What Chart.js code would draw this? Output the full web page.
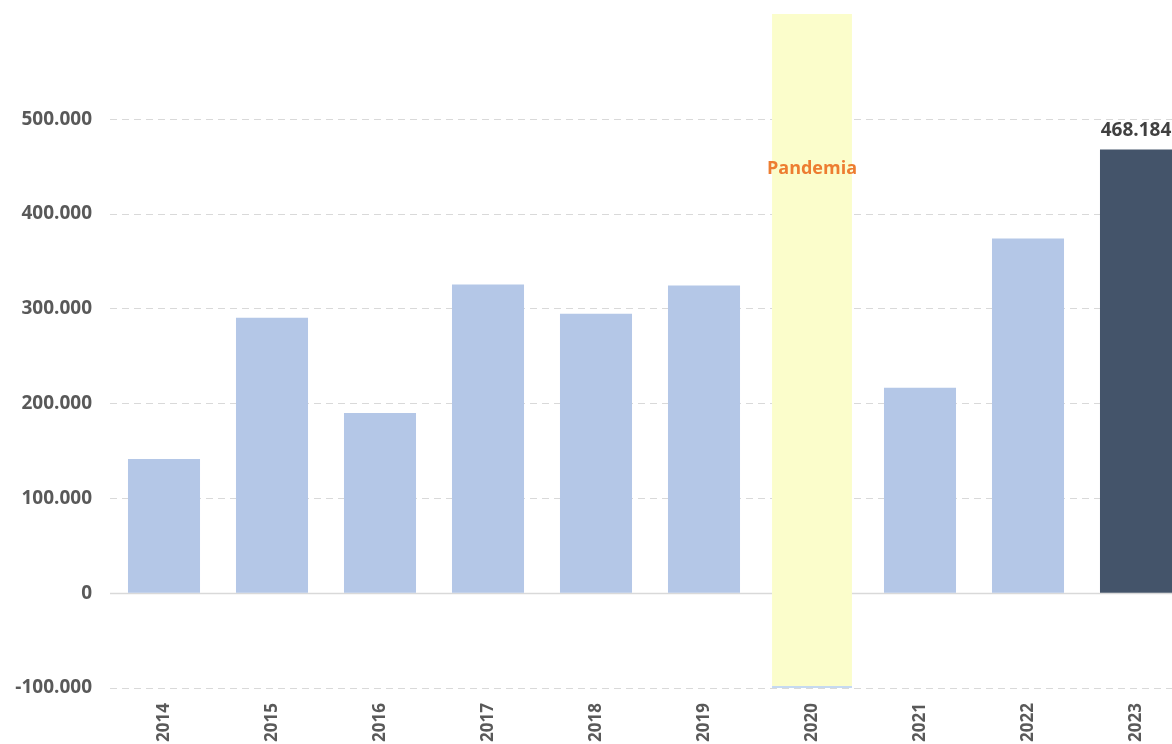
<!DOCTYPE html>
<html>
<head>
<meta charset="utf-8">
<script src="https://cdn.jsdelivr.net/npm/chart.js@4/dist/chart.umd.min.js"></script>
<style>
  html, body { margin: 0; padding: 0; background: #ffffff; overflow: hidden; width: 1172px; height: 744px; }
  #wrap { position: absolute; left: 0; top: 0; width: 1190px; height: 744px; }
</style>
</head>
<body>
<div id="wrap"><canvas id="c" width="1190" height="744"></canvas></div>
<script>
// ---- data ----
const years = ['2014', '2015', '2016', '2017', '2018', '2019', '2020', '2021', '2022', '2023'];
const values = [141600, 290700, 190000, 325600, 294900, 324500, null, 216700, 374200, 468184];
const highlightYear = '2020';
const highlightLabel = 'Pandemia';
const highlightRange = [-100000, 611000];
const yTickValues = [-100000, 0, 100000, 200000, 300000, 400000, 500000];
const yMin = -100000;
const yMax = 611000;

// ---- helpers ----
function fmt(v) {
  const s = Math.abs(Math.round(v)).toString().replace(/\B(?=(\d{3})+(?!\d))/g, '.');
  return (v < 0 ? '-' : '') + s;
}
const lastIdx = values.length - 1;
const barColors = values.map((v, i) => i === lastIdx ? '#44546a' : '#b4c7e7');

const fontFam = '"Open Sans", "Noto Sans", sans-serif';

const overlayPlugin = {
  id: 'overlay',
  beforeDatasetsDraw(chart) {
    const y = chart.scales.y, a = chart.chartArea, ctx = chart.ctx;
    const y0 = Math.round(y.getPixelForValue(0)) + 0.5;
    ctx.save();
    ctx.strokeStyle = '#d9d9d9';
    ctx.lineWidth = 1.5;
    ctx.beginPath();
    ctx.moveTo(a.left, y0);
    ctx.lineTo(a.right, y0);
    ctx.stroke();
    ctx.restore();
  },
  afterDatasetsDraw(chart) {
    const ctx = chart.ctx;
    ctx.save();
    const mainMeta = chart.getDatasetMeta(1);
    const bar = mainMeta.data[lastIdx];
    ctx.font = 'bold 19px ' + fontFam;
    ctx.fillStyle = '#404040';
    ctx.textAlign = 'center';
    ctx.textBaseline = 'bottom';
    ctx.fillText(fmt(values[lastIdx]), bar.x, bar.y - 9);
    const hMeta = chart.getDatasetMeta(0);
    const hi = years.indexOf(highlightYear);
    const hb = hMeta.data[hi];
    ctx.font = 'bold 18px ' + fontFam;
    ctx.fillStyle = '#ed7d31';
    ctx.textBaseline = 'middle';
    ctx.fillText(highlightLabel, hb.x, chart.scales.y.getPixelForValue(448000));
    ctx.restore();
  }
};

new Chart(document.getElementById('c'), {
  type: 'bar',
  data: {
    labels: years,
    datasets: [
      {
        label: highlightLabel,
        data: years.map(y => y === highlightYear ? highlightRange : null),
        backgroundColor: '#fbfdcb',
        borderColor: '#c5d9f1',
        borderWidth: { top: 0, left: 0, right: 0, bottom: 2 },
        borderSkipped: false,
        categoryPercentage: 1,
        barPercentage: 0.74,
        grouped: false,
        order: 2
      },
      {
        label: 'Valor',
        data: values,
        backgroundColor: barColors,
        borderWidth: 0,
        categoryPercentage: 1,
        barPercentage: 0.667,
        grouped: false,
        order: 1
      }
    ]
  },
  options: {
    responsive: false,
    animation: false,
    devicePixelRatio: 1,
    layout: { padding: { top: 14, left: 0, right: 0, bottom: 0 } },
    plugins: { legend: { display: false }, tooltip: { enabled: false } },
    scales: {
      x: {
        grid: { display: false },
        border: { display: false },
        ticks: {
          color: '#595959',
          font: { family: fontFam, size: 17, weight: 'bold' },
          minRotation: 90,
          maxRotation: 90,
          padding: 7,
          autoSkip: false
        },
        afterFit(scale) { scale.height = 56; scale.paddingLeft = 0; scale.paddingRight = 0; }
      },
      y: {
        min: yMin,
        max: yMax,
        grid: { color: '#d9d9d9', lineWidth: 1, drawTicks: false },
        border: { display: false, dash: [7, 5] },
        ticks: {
          color: '#595959',
          font: { family: fontFam, size: 19, weight: 'bold' },
          padding: 18,
          callback: (v) => fmt(v)
        },
        afterBuildTicks(scale) {
          scale.ticks = yTickValues.map(v => ({ value: v }));
        },
        afterFit(scale) { scale.width = 110; scale.paddingTop = 0; scale.paddingBottom = 0; }
      }
    }
  },
  plugins: [overlayPlugin]
});
</script>
</body>
</html>
